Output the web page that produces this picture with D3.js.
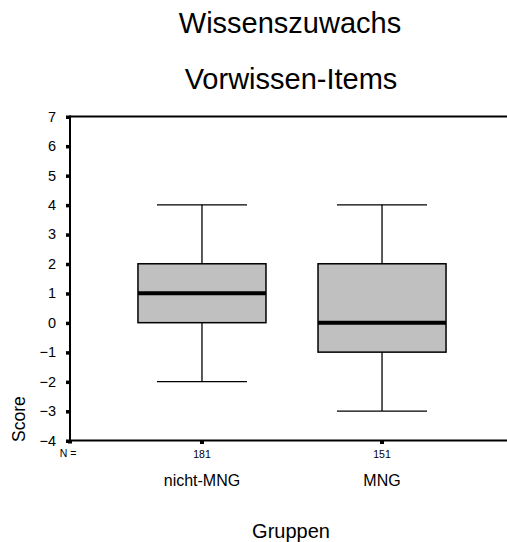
<!DOCTYPE html>
<html>
<head>
<meta charset="utf-8">
<script src="https://cdn.jsdelivr.net/npm/d3@7"></script>
<style>
  html, body { margin: 0; padding: 0; background: #fff; }
  svg { display: block; }
  text { font-family: Arial, "Liberation Sans", sans-serif; fill: #000; }
</style>
</head>
<body>
<svg id="chart" width="507" height="542"></svg>
<script>
// Boxplot summaries per group
const groups   = ["nicht-MNG", "MNG"];
const counts   = [181, 151];
const whiskLo  = [-2, -3];
const q1       = [0, -1];
const medians  = [1, 0];
const q3       = [2, 2];
const whiskHi  = [4, 4];
const yTicks   = [-4, -3, -2, -1, 0, 1, 2, 3, 4, 5, 6, 7];

(function draw() {
  const svg = d3.select("#chart");
  const W = 507;
  const plotL = 70, plotR = 514, plotT = 116.5, plotB = 440.5;

  const x = d3.scalePoint().domain(groups).range([plotL, plotR]).padding(0.733);
  const y = d3.scaleLinear().domain([-4, 7]).range([plotB, plotT]);
  const step = x.step();
  const boxW = step * 0.711;
  const capW = step * 0.5;

  // Titles
  svg.append("text").attr("x", 290).attr("y", 33).attr("text-anchor", "middle")
    .style("font-size", "29px").text("Wissenszuwachs");
  svg.append("text").attr("x", 291).attr("y", 89).attr("text-anchor", "middle")
    .style("font-size", "29px").text("Vorwissen-Items");

  // Frame
  const g = svg.append("g");
  g.append("line").attr("x1", plotL).attr("x2", W + 5).attr("y1", plotT).attr("y2", plotT)
    .attr("stroke", "#000").attr("stroke-width", 2);
  g.append("line").attr("x1", plotL).attr("x2", W + 5).attr("y1", plotB).attr("y2", plotB)
    .attr("stroke", "#000").attr("stroke-width", 2);
  g.append("line").attr("x1", plotL).attr("x2", plotL).attr("y1", plotT - 1).attr("y2", plotB + 1)
    .attr("stroke", "#000").attr("stroke-width", 2);

  // Y axis: square tick marks and labels
  const yAxis = d3.axisLeft(y).tickValues(yTicks).tickSize(0).tickPadding(14);
  const ya = svg.append("g").attr("transform", `translate(${plotL},0)`).call(yAxis);
  ya.attr("font-size", null).attr("font-family", null);
  ya.select(".domain").remove();
  ya.selectAll(".tick text").style("font-size", "14.5px").attr("fill", "#000");
  ya.selectAll(".tick").append("rect")
    .attr("x", -4).attr("y", -1.5).attr("width", 4).attr("height", 3.5).attr("fill", "#000");

  // X axis: square tick marks, counts and group names
  const xa = svg.append("g").attr("transform", `translate(0,${plotB})`);
  xa.append("rect").attr("x", plotL - 2).attr("y", 0).attr("width", 4).attr("height", 3).attr("fill", "#000");
  xa.selectAll("rect.xt").data(groups).join("rect").attr("class", "xt")
    .attr("x", d => x(d) - 2).attr("y", 0).attr("width", 4).attr("height", 3.5).attr("fill", "#000");
  xa.append("text").attr("x", plotL - 2).attr("y", 16.5).attr("text-anchor", "middle")
    .style("font-size", "10.5px").text("N =");
  xa.selectAll("text.n").data(groups).join("text").attr("class", "n")
    .attr("x", d => x(d)).attr("y", 17).attr("text-anchor", "middle")
    .style("font-size", "10.5px").text((d, i) => counts[i]);
  xa.selectAll("text.cat").data(groups).join("text").attr("class", "cat")
    .attr("x", d => x(d)).attr("y", 45).attr("text-anchor", "middle")
    .style("font-size", "16px").text(d => d);

  // Axis titles
  svg.append("text").attr("transform", "translate(25,442) rotate(-90)")
    .attr("text-anchor", "start").style("font-size", "17.5px").text("Score");
  svg.append("text").attr("x", 291).attr("y", 537.5).attr("text-anchor", "middle")
    .style("font-size", "20px").text("Gruppen");

  // Boxes
  const boxes = svg.append("g").selectAll("g").data(groups).join("g");
  boxes.append("line").attr("x1", d => x(d)).attr("x2", d => x(d))
    .attr("y1", (d, i) => y(whiskHi[i])).attr("y2", (d, i) => y(q3[i]))
    .attr("stroke", "#000").attr("stroke-width", 1.3);
  boxes.append("line").attr("x1", d => x(d)).attr("x2", d => x(d))
    .attr("y1", (d, i) => y(q1[i])).attr("y2", (d, i) => y(whiskLo[i]))
    .attr("stroke", "#000").attr("stroke-width", 1.3);
  boxes.append("line").attr("x1", d => x(d) - capW / 2).attr("x2", d => x(d) + capW / 2)
    .attr("y1", (d, i) => y(whiskHi[i])).attr("y2", (d, i) => y(whiskHi[i]))
    .attr("stroke", "#000").attr("stroke-width", 1.3);
  boxes.append("line").attr("x1", d => x(d) - capW / 2).attr("x2", d => x(d) + capW / 2)
    .attr("y1", (d, i) => y(whiskLo[i])).attr("y2", (d, i) => y(whiskLo[i]))
    .attr("stroke", "#000").attr("stroke-width", 1.3);
  boxes.append("rect").attr("x", d => x(d) - boxW / 2).attr("width", boxW)
    .attr("y", (d, i) => y(q3[i])).attr("height", (d, i) => y(q1[i]) - y(q3[i]))
    .attr("fill", "#c0c0c0").attr("stroke", "#000").attr("stroke-width", 1.5);
  boxes.append("line").attr("x1", d => x(d) - boxW / 2).attr("x2", d => x(d) + boxW / 2)
    .attr("y1", (d, i) => y(medians[i])).attr("y2", (d, i) => y(medians[i]))
    .attr("stroke", "#000").attr("stroke-width", 4);
})();
</script>
</body>
</html>
